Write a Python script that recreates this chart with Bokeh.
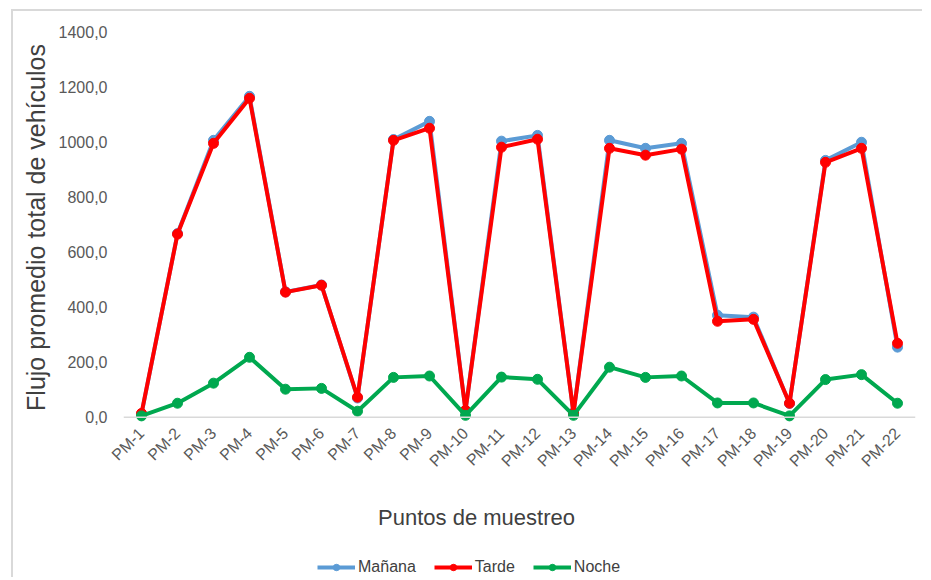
import math
from bokeh.plotting import figure
from bokeh.layouts import column
from bokeh.models import Range1d, FixedTicker, Span, Legend, LegendItem
from bokeh.core.properties import value
from bokeh.embed import file_html
from bokeh.resources import INLINE

puntos = ["PM-1", "PM-2", "PM-3", "PM-4", "PM-5", "PM-6", "PM-7", "PM-8", "PM-9", "PM-10", "PM-11",
          "PM-12", "PM-13", "PM-14", "PM-15", "PM-16", "PM-17", "PM-18", "PM-19", "PM-20", "PM-21", "PM-22"]
manana = [12, 668, 1007, 1167, 456, 481, 70, 1010, 1076, 25, 1004, 1025, 15, 1007, 978, 996, 371, 364, 50, 934, 1000, 255]
tarde = [14, 666, 996, 1160, 455, 480, 73, 1007, 1051, 25, 982, 1011, 15, 978, 953, 975, 349, 356, 51, 927, 978, 269]
noche = [5, 51, 124, 218, 102, 105, 22, 145, 150, 7, 146, 138, 7, 182, 145, 150, 52, 52, 5, 137, 155, 51]
y_ticks = [0, 200, 400, 600, 800, 1000, 1200, 1400]
y_tick_labels = ["0,0", "200,0", "400,0", "600,0", "800,0", "1000,0", "1200,0", "1400,0"]
series_names = ["Mañana", "Tarde", "Noche"]
series_colors = ["#5B9BD5", "#FF0000", "#00A84F"]
x_title = "Puntos de muestreo"
y_title = "Flujo promedio total de vehículos"

FONT = "Liberation Sans"
W = 909
BL, BR = 110, 7

p = figure(x_range=puntos, y_range=Range1d(-30, 1410), width=W, height=480,
           output_backend="svg", toolbar_location=None,
           min_border_left=BL, min_border_right=BR, min_border_top=18, min_border_bottom=66)
p.background_fill_color = "white"
p.border_fill_color = "white"
p.outline_line_color = None
p.grid.grid_line_color = None
p.x_range.range_padding = 0

p.yaxis.ticker = FixedTicker(ticks=y_ticks)
p.yaxis.major_label_overrides = {t: l for t, l in zip(y_ticks, y_tick_labels)}
p.yaxis.axis_line_color = None
p.yaxis.major_tick_line_color = None
p.yaxis.minor_tick_line_color = None
p.yaxis.major_tick_out = 0
p.yaxis.major_tick_in = 0
p.yaxis.major_label_text_font = FONT
p.yaxis.major_label_text_font_size = "16px"
p.yaxis.major_label_text_color = "#595959"
p.yaxis.major_label_standoff = 16
p.yaxis.axis_label = y_title
p.yaxis.axis_label_text_font = FONT
p.yaxis.axis_label_text_font_size = "25px"
p.yaxis.axis_label_text_font_style = "normal"
p.yaxis.axis_label_text_color = "#404040"
p.yaxis.axis_label_standoff = 6

p.xaxis.axis_line_color = None
p.xaxis.major_tick_line_color = None
p.xaxis.minor_tick_line_color = None
p.xaxis.major_tick_out = 0
p.xaxis.major_tick_in = 0
p.xaxis.major_label_orientation = math.pi / 4
p.xaxis.major_label_text_font = FONT
p.xaxis.major_label_text_font_size = "16px"
p.xaxis.major_label_text_color = "#595959"
p.xaxis.major_label_standoff = 5

p.add_layout(Span(location=0, dimension="width", line_color="#d9d9d9", line_width=1.5))

for name, vals, col in zip(series_names, [manana, tarde, noche], series_colors):
    p.line(puntos, vals, line_color=col, line_width=4)
    p.scatter(puntos, vals, size=10, fill_color=col, line_color=col)

# bottom strip: x-axis title and legend (x in page pixels, y in pixels from strip top)
p2 = figure(width=W, height=86, x_range=Range1d(123, 915), y_range=Range1d(86, 0),
            output_backend="svg", toolbar_location=None,
            x_axis_location=None, y_axis_location=None,
            min_border_left=BL, min_border_right=BR, min_border_top=0, min_border_bottom=0)
p2.outline_line_color = None
p2.grid.grid_line_color = None
p2.background_fill_color = "white"
p2.border_fill_color = "white"
p2.text(x=[476], y=[26], text=[x_title], text_font=value(FONT), text_font_size="22px",
        text_color="#404040", text_align="center", text_baseline="middle")

items = []
for name, col in zip(series_names, series_colors):
    r1 = p2.line(x=[-5000, -4000], y=[-5000, -5000], line_color=col, line_width=4)
    r2 = p2.scatter(x=[-5000], y=[-5000], size=10, fill_color=col, line_color=col)
    items.append(LegendItem(label=name, renderers=[r1, r2]))
legend = Legend(items=items, orientation="horizontal", location=(194, 1),
                label_text_font=FONT, label_text_font_size="16px", label_text_color="#404040",
                glyph_width=38, glyph_height=16, label_standoff=3, spacing=18,
                border_line_color=None, background_fill_alpha=0, padding=0, margin=0)
p2.add_layout(legend, "center")

layout = column(p, p2, spacing=0, margin=(9, 0, 0, 11),
                styles={"border-top": "2px solid #d9d9d9", "border-left": "2px solid #d9d9d9"})

open("out.html", "w").write(file_html(layout, INLINE))
